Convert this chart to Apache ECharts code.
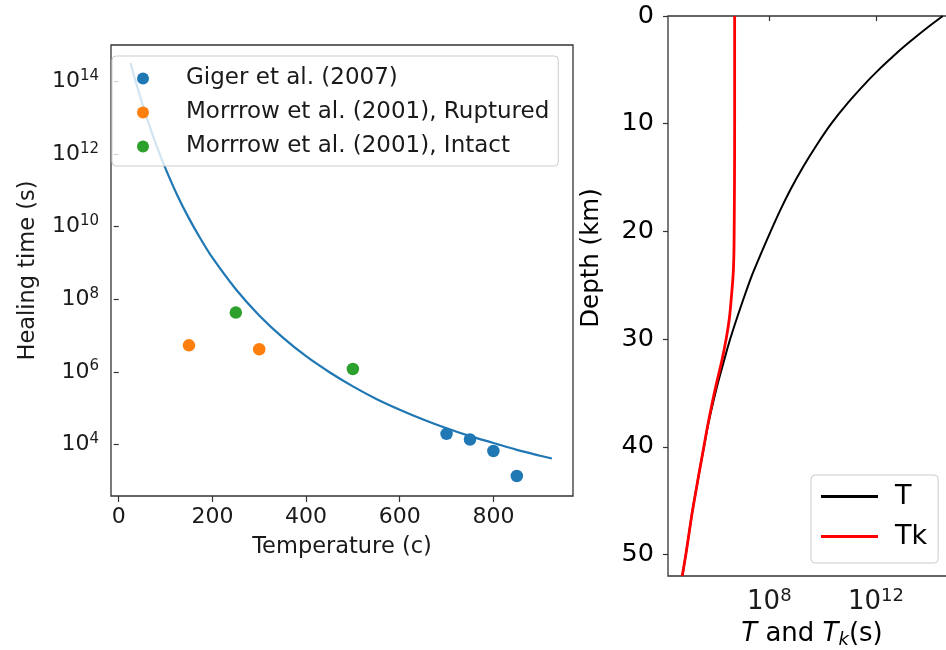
<!DOCTYPE html>
<html>
<head>
<meta charset="utf-8">
<script src="https://cdn.jsdelivr.net/npm/echarts@6/dist/echarts.min.js"></script>
<style>
  html, body { margin: 0; padding: 0; background: #ffffff; }
  #chart { width: 946px; height: 650px; }
</style>
</head>
<body>
<div id="chart"></div>
<script>
// Left panel: healing time against temperature (fit curve + lab data)
const fitTemperature = [25, 40, 60, 80, 100, 125, 150, 175, 200, 250, 300, 350,
  400, 450, 500, 550, 600, 650, 700, 750, 800, 850, 900, 925];
const fitHealingTime = [3.3e14, 6.8e13, 1.0e13, 1.8e12, 4.0e11, 7.4e10, 1.7e10, 4.6e9,
  1.4e9, 1.9e8, 3.6e7, 8.9e6, 2.7e6, 9.8e5, 4.0e5, 1.8e5, 9.1e4, 4.9e4, 2.8e4,
  1.7e4, 1.1e4, 7.1e3, 4.9e3, 4.1e3];

const gigerTemperature = [700, 750, 800, 850];
const gigerHealingTime = [1.96e4, 1.37e4, 6.6e3, 1.35e3];
const rupturedTemperature = [150, 300];
const rupturedHealingTime = [5.4e6, 4.2e6];
const intactTemperature = [250, 500];
const intactHealingTime = [4.3e7, 1.2e6];

const temperatureTicks = [0, 200, 400, 600, 800];
const healingTimeTicks = [1e4, 1e6, 1e8, 1e10, 1e12, 1e14];

// Right panel: healing time profiles with depth
const depthT = [0, 1, 2, 3, 4, 5, 6, 8, 10, 12, 14, 16, 18, 20, 22, 24, 26, 28, 30,
  32, 34, 36, 38, 40, 42, 44, 46, 48, 50, 52];
const timeT = [3.2e14, 9.3e13, 2.9e13, 9.5e12, 3.4e12, 1.26e12, 5.0e11, 9.3e10, 2.1e10,
  5.9e9, 1.86e9, 6.6e8, 2.6e8, 1.12e8, 5.0e7, 2.3e7, 1.17e7, 6.2e6, 3.4e6, 2.0e6,
  1.2e6, 7.6e5, 5.0e5, 3.55e5, 2.5e5, 1.8e5, 1.3e5, 9.8e4, 7.4e4, 5.5e4];
const depthTk = [0, 5, 10, 15, 20, 22, 24, 26, 28, 30, 32, 34, 36, 38, 40, 42, 44,
  46, 48, 50, 52];
const timeTk = [5.0e6, 5.0e6, 5.0e6, 4.95e6, 4.8e6, 4.7e6, 4.4e6, 3.8e6, 3.2e6, 2.4e6,
  1.66e6, 1.07e6, 7.1e5, 4.9e5, 3.5e5, 2.5e5, 1.8e5, 1.3e5, 9.8e4, 7.4e4, 5.4e4];

const depthTicks = [0, 10, 20, 30, 40, 50];
const profileTimeTicks = [1e8, 1e12];

const FONT = 'DejaVu Sans';
const INK = '#1a1a1a';

function pairs(xs, ys) {
  return xs.map((x, i) => [x, ys[i]]);
}
function powerLabel(v) {
  return '{b|10}{s|' + Math.round(Math.log10(v)) + '}';
}
function powerRich(size) {
  return {
    b: { fontSize: size, fontFamily: FONT, color: INK },
    s: { fontSize: Math.round(size * 0.7), fontFamily: FONT, color: INK,
         padding: [0, 0, Math.round(size * 0.5), 0] }
  };
}

const chart = echarts.init(document.getElementById('chart'), null, { renderer: 'canvas' });

const option = {
  animation: false,
  backgroundColor: '#ffffff',
  textStyle: { fontFamily: FONT, color: INK },
  grid: [
    { left: 111, top: 45, width: 462, height: 451, show: true,
      borderColor: '#333', borderWidth: 1.3, backgroundColor: 'transparent',
      containLabel: false, outerBoundsMode: 'none' },
    { left: 668, top: 16, width: 288, height: 560, show: true,
      borderColor: '#333', borderWidth: 1.3, backgroundColor: 'transparent',
      containLabel: false, outerBoundsMode: 'none' }
  ],
  xAxis: [
    {
      type: 'value', gridIndex: 0, min: -16.5, max: 970,
      axisLine: { show: false },
      axisTick: { show: true, customValues: temperatureTicks, length: 6,
                  lineStyle: { color: '#333', width: 1.2 } },
      axisLabel: { customValues: temperatureTicks, fontSize: 22, fontFamily: FONT,
                   color: INK, margin: 10 },
      splitLine: { show: false },
      name: 'Temperature (c)', nameLocation: 'middle', nameGap: 40,
      nameMoveOverlap: false,
      nameTextStyle: { fontSize: 22.5, fontFamily: FONT, color: INK }
    },
    {
      type: 'log', logBase: 10, gridIndex: 1, min: 1.585e4, max: 1e15,
      axisLine: { show: false },
      axisTick: { show: true, customValues: profileTimeTicks, length: 5,
                  lineStyle: { color: '#333', width: 1.2 } },
      axisLabel: { customValues: profileTimeTicks, formatter: powerLabel,
                   margin: 11, rich: powerRich(26) },
      splitLine: { show: false },
      minorTick: { show: false },
      name: '{i|T} and {i|T}{k|k}(s)', nameLocation: 'middle', nameGap: 43,
      nameMoveOverlap: false,
      nameTextStyle: {
        fontSize: 26, fontFamily: FONT, color: '#000',
        rich: {
          i: { fontSize: 26, fontFamily: FONT, fontStyle: 'italic', color: '#000' },
          k: { fontSize: 18, fontFamily: FONT, fontStyle: 'italic', color: '#000',
               padding: [12, 0, 0, 0] }
        }
      }
    }
  ],
  yAxis: [
    {
      type: 'log', logBase: 10, gridIndex: 0, min: 380, max: 1.02e15,
      axisLine: { show: false },
      axisTick: { show: true, customValues: healingTimeTicks, length: 5,
                  lineStyle: { color: '#333', width: 1.2 } },
      axisLabel: { customValues: healingTimeTicks, formatter: powerLabel,
                   margin: 12, rich: powerRich(22) },
      splitLine: { show: false },
      minorTick: { show: false },
      name: 'Healing time (s)', nameLocation: 'middle', nameRotate: 90, nameGap: 71,
      nameMoveOverlap: false,
      nameTextStyle: { fontSize: 22.5, fontFamily: FONT, color: INK }
    },
    {
      type: 'value', gridIndex: 1, min: 0, max: 52, inverse: true,
      axisLine: { show: false },
      axisTick: { show: true, customValues: depthTicks, length: 5,
                  lineStyle: { color: '#333', width: 1.2 } },
      axisLabel: { customValues: depthTicks, fontSize: 25.5, fontFamily: FONT,
                   color: '#000', margin: 14 },
      splitLine: { show: false },
      name: 'Depth (km)', nameLocation: 'middle', nameRotate: 90, nameGap: 64,
      nameMoveOverlap: false,
      nameTextStyle: { fontSize: 24.5, fontFamily: FONT, color: '#000',
                       padding: [0, 0, 0, 76] }
    }
  ],
  legend: [
    {
      orient: 'vertical', left: 112, top: 56,
      data: ['Giger et al. (2007)', 'Morrrow et al. (2001), Ruptured',
             'Morrrow et al. (2001), Intact'],
      icon: 'circle', itemWidth: 12, itemHeight: 12, itemGap: 11,
      padding: [11, 9, 8, 25],
      backgroundColor: 'rgba(255,255,255,0.8)', borderColor: '#cccccc',
      borderWidth: 1, borderRadius: 4,
      textStyle: { fontSize: 23, fontFamily: FONT, color: INK, padding: [0, 0, 0, 32] }
    },
    {
      orient: 'vertical', left: 811, top: 475,
      data: ['T', 'Tk'],
      icon: 'rect', itemWidth: 57, itemHeight: 3, itemGap: 13,
      padding: [8, 11, 13, 10],
      backgroundColor: 'rgba(255,255,255,0.8)', borderColor: '#cccccc',
      borderWidth: 1, borderRadius: 4,
      textStyle: { fontSize: 27, fontFamily: FONT, color: '#000', padding: [0, 0, 0, 12] }
    }
  ],
  series: [
    {
      name: 'fit', type: 'line', xAxisIndex: 0, yAxisIndex: 0,
      data: pairs(fitTemperature, fitHealingTime),
      showSymbol: false, smooth: 0.25, z: 2,
      lineStyle: { color: '#1f77b4', width: 2.2 }, itemStyle: { color: '#1f77b4' }
    },
    {
      name: 'Giger et al. (2007)', type: 'scatter', xAxisIndex: 0, yAxisIndex: 0,
      data: pairs(gigerTemperature, gigerHealingTime), symbolSize: 12.5, z: 3,
      itemStyle: { color: '#1f77b4', opacity: 1 }
    },
    {
      name: 'Morrrow et al. (2001), Ruptured', type: 'scatter', xAxisIndex: 0, yAxisIndex: 0,
      data: pairs(rupturedTemperature, rupturedHealingTime), symbolSize: 12.5, z: 3,
      itemStyle: { color: '#ff7f0e', opacity: 1 }
    },
    {
      name: 'Morrrow et al. (2001), Intact', type: 'scatter', xAxisIndex: 0, yAxisIndex: 0,
      data: pairs(intactTemperature, intactHealingTime), symbolSize: 12.5, z: 3,
      itemStyle: { color: '#2ca02c', opacity: 1 }
    },
    {
      name: 'T', type: 'line', xAxisIndex: 1, yAxisIndex: 1,
      data: pairs(timeT, depthT), showSymbol: false, smooth: 0.3, z: 2,
      lineStyle: { color: '#000000', width: 2 }, itemStyle: { color: '#000000' }
    },
    {
      name: 'Tk', type: 'line', xAxisIndex: 1, yAxisIndex: 1,
      data: pairs(timeTk, depthTk), showSymbol: false, smooth: 0.3, z: 3,
      lineStyle: { color: '#ff0000', width: 2.8 }, itemStyle: { color: '#ff0000' }
    }
  ]
};

chart.setOption(option);
</script>
</body>
</html>
